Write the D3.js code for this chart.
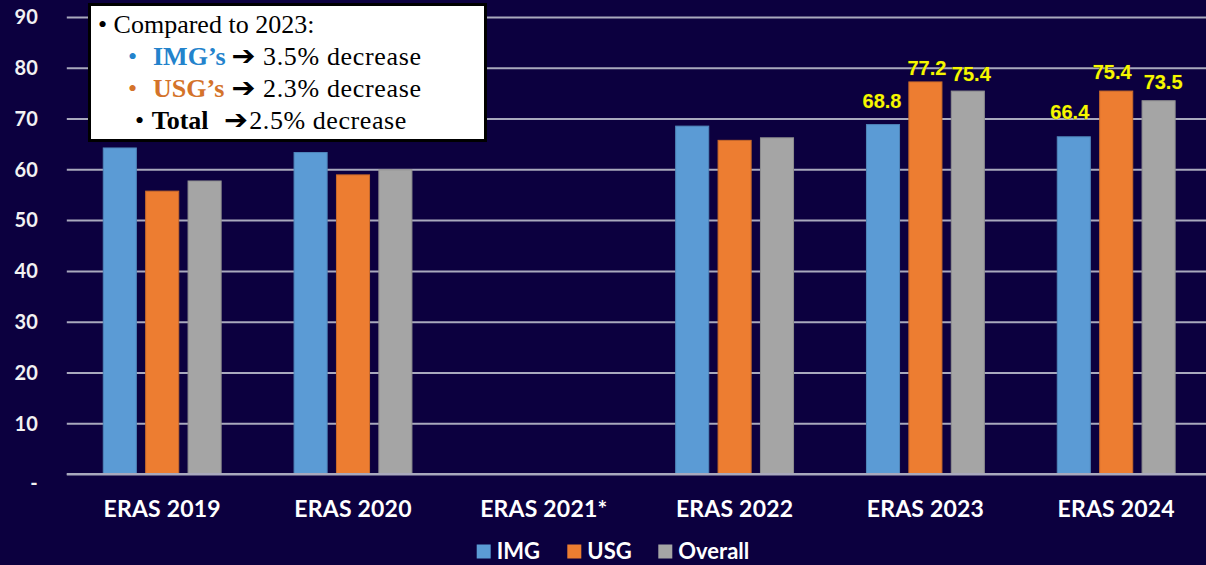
<!DOCTYPE html>
<html>
<head>
<meta charset="utf-8">
<script src="https://cdn.jsdelivr.net/npm/d3@7/dist/d3.min.js"></script>
<style>
  html, body { margin: 0; padding: 0; background: #0c003f; }
  svg { display: block; }
</style>
</head>
<body>
<svg id="chart" width="1206" height="565"></svg>
<script>
// ---------------- DATA ----------------
const categories = ["ERAS 2019", "ERAS 2020", "ERAS 2021*", "ERAS 2022", "ERAS 2023", "ERAS 2024"];
const series = ["IMG", "USG", "Overall"];
const imgValues = [64.2, 63.3, null, 68.5, 68.8, 66.4];
const usgValues = [55.7, 58.9, null, 65.7, 77.2, 75.4];
const overallValues = [57.7, 59.9, null, 66.2, 75.4, 73.5];
const yTicks = [0, 10, 20, 30, 40, 50, 60, 70, 80, 90];
const labelledCategories = ["ERAS 2023", "ERAS 2024"];

const noteTitle = "Compared to 2023:";
const noteLines = [
  { who: "IMG\u2019s", rest: "3.5% decrease" },
  { who: "USG\u2019s", rest: "2.3% decrease" },
  { who: "Total", rest: "2.5% decrease" }
];

// ---------------- STYLE / LAYOUT ----------------
const colors = { IMG: "#5b9bd5", USG: "#ed7d31", Overall: "#a5a5a5" };
const edge = { IMG: "#4f86ba", USG: "#c96a2a", Overall: "#8f8f8f" };
const noteColors = ["#2383cc", "#d4732a", "#000000"];
// small hand-placed nudges of the value labels (dx, gap above bar top)
const labelNudge = {
  "ERAS 2023": { IMG: [-1, 17], USG: [1.5, 7], Overall: [3.5, 10] },
  "ERAS 2024": { IMG: [-4, 18], USG: [-4, 12.5], Overall: [4.5, 12] }
};
// x positions of the pieces of each note line: bullet, label, arrow, rest, rest width
const noteLayout = [
  [128, 153, 231.5, 263, 158],
  [128, 153, 231.5, 263, 158],
  [135, 151.7, 224, 249.3, 157]
];

const W = 1206, H = 565;
const plotLeft = 66.8, plotRight = 1211.6;
const yTop = 16.9, yBottom = 474.1;

const svg = d3.select("#chart");
svg.append("rect").attr("width", W).attr("height", H).attr("fill", "#0c003f");

const valuesBySeries = { IMG: imgValues, USG: usgValues, Overall: overallValues };
const rows = categories.map((c, i) => ({
  cat: c,
  vals: series.map(s => ({ s, v: valuesBySeries[s][i], cat: c }))
}));

const x0 = d3.scaleBand().domain(categories).range([plotLeft, plotRight]).paddingInner(0).paddingOuter(0);
const x1 = d3.scaleBand().domain(series).range([0, x0.bandwidth()]).paddingInner(0.22).paddingOuter(0.86);
const y = d3.scaleLinear().domain([0, 90]).range([yBottom, yTop]);

// Y axis + gridlines
const yAxis = d3.axisLeft(y)
  .tickValues(yTicks)
  .tickSize(-(W - plotLeft))
  .tickPadding(29)
  .tickFormat(d => d === 0 ? "-" : d);

const gy = svg.append("g").attr("transform", `translate(${plotLeft},0)`).call(yAxis);
gy.select(".domain").remove();
gy.selectAll(".tick line").attr("stroke", "#a9a9bd").attr("stroke-width", 2);
gy.selectAll(".tick text")
  .attr("fill", "#f2f2f2")
  .attr("font-family", "Lato, 'Open Sans', sans-serif")
  .attr("font-weight", "bold")
  .attr("font-size", 20)
  .attr("dy", d => d === 0 ? "0.75em" : "0.34em");

// Bars
const groups = svg.append("g").selectAll("g.grp").data(rows).join("g")
  .attr("class", "grp")
  .attr("transform", d => `translate(${x0(d.cat)},0)`);

groups.selectAll("rect").data(d => d.vals.filter(v => v.v != null)).join("rect")
  .attr("x", d => x1(d.s))
  .attr("width", x1.bandwidth())
  .attr("y", d => y(d.v))
  .attr("height", d => y(0) - y(d.v))
  .attr("fill", d => colors[d.s])
  .attr("stroke", d => edge[d.s])
  .attr("stroke-width", 1);

// Value labels
groups.filter(d => labelledCategories.includes(d.cat))
  .selectAll("text.val").data(d => d.vals).join("text")
  .attr("class", "val")
  .attr("x", d => x1(d.s) + x1.bandwidth() / 2 + labelNudge[d.cat][d.s][0])
  .attr("y", d => y(d.v) - labelNudge[d.cat][d.s][1])
  .attr("text-anchor", "middle")
  .attr("font-family", "'Liberation Sans', Arial, sans-serif")
  .attr("font-weight", "bold")
  .attr("font-size", 20)
  .attr("fill", "#f7f700")
  .attr("stroke", "#3a3a10")
  .attr("stroke-width", 0.6)
  .attr("paint-order", "stroke")
  .text(d => d.v.toFixed(1));

// Baseline redraw on top of bars
svg.append("line")
  .attr("x1", plotLeft).attr("x2", W)
  .attr("y1", y(0)).attr("y2", y(0))
  .attr("stroke", "#a9a9bd").attr("stroke-width", 2);

// X axis labels
const xAxis = d3.axisBottom(x0).tickSize(0).tickPadding(0);
const gx = svg.append("g").attr("transform", `translate(0,${517})`).call(xAxis);
gx.select(".domain").remove();
gx.selectAll(".tick text")
  .attr("y", 0).attr("dy", 0)
  .attr("fill", "#ffffff")
  .attr("font-family", "Lato, 'Open Sans', sans-serif")
  .attr("font-weight", "bold")
  .attr("font-size", 23)
  .attr("letter-spacing", 0.2);

// Legend
const legendPos = [{ s: "IMG", x: 476.7 }, { s: "USG", x: 567.3 }, { s: "Overall", x: 658.3 }];
const lg = svg.append("g");
legendPos.forEach(p => {
  lg.append("rect").attr("x", p.x).attr("y", 544.5).attr("width", 14).attr("height", 14)
    .attr("fill", colors[p.s]);
  lg.append("text").attr("x", p.x + 20).attr("y", 558.5)
    .attr("fill", "#ffffff")
    .attr("font-family", "Lato, 'Open Sans', sans-serif")
    .attr("font-weight", "bold")
    .attr("font-size", 22)
    .text(p.s);
});

// Annotation box
const note = svg.append("g");
note.append("rect")
  .attr("x", 89.5).attr("y", 4.5).attr("width", 396).attr("height", 136)
  .attr("fill", "#ffffff").attr("stroke", "#000000").attr("stroke-width", 3);

const serif = "'Liberation Serif', 'DejaVu Serif', serif";
const t1 = note.append("text").attr("x", 98).attr("y", 33)
  .attr("font-family", serif).attr("font-size", 26).attr("fill", "#000");
t1.append("tspan").text("\u2022 ");
t1.append("tspan").text(noteTitle);

noteLines.forEach((ln, i) => {
  const L = noteLayout[i];
  const yy = 64.5 + i * 32;
  const t = note.append("text")
    .attr("y", yy)
    .attr("font-family", serif).attr("font-size", 26).attr("fill", "#000");
  t.append("tspan").attr("x", L[0]).attr("fill", noteColors[i]).text("\u2022");
  t.append("tspan").attr("x", L[1]).attr("fill", noteColors[i]).attr("font-weight", "bold").text(ln.who);
  t.append("tspan").attr("x", L[2]).attr("font-family", "'DejaVu Sans', sans-serif").attr("font-weight", "bold")
    .attr("font-size", 27).attr("textLength", 24).attr("lengthAdjust", "spacingAndGlyphs").text("\u2794");
  t.append("tspan").attr("x", L[3]).attr("textLength", L[4]).attr("lengthAdjust", "spacing").text(ln.rest);
});
</script>
</body>
</html>
